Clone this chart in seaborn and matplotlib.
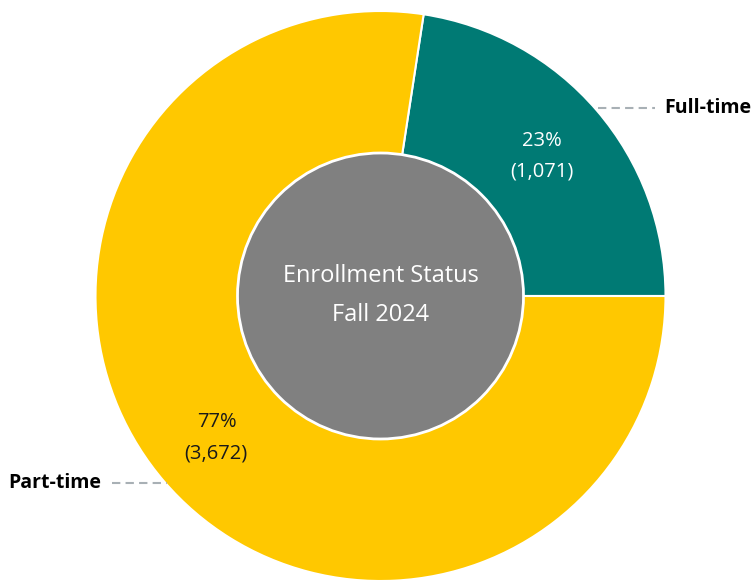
import matplotlib
matplotlib.use("Agg")
import matplotlib.pyplot as plt
import seaborn as sns
from matplotlib.patches import Circle

categories = ["Full-time", "Part-time"]
counts = [1071, 3672]
colors = ["#007A74", "#FFC800"]
center_title = ["Enrollment Status", "Fall 2024"]

sns.set_theme(style="white")
plt.rcParams['font.family'] = ['Open Sans', 'DejaVu Sans']

W, H = 753, 582
fig = plt.figure(figsize=(W / 100, H / 100), dpi=100)
ax = fig.add_axes([0, 0, 1, 1])

cx, cy, R = 380.5, H - 296, 285
wedges, _ = ax.pie(counts, colors=colors, startangle=0, counterclock=True,
                   center=(cx, cy), radius=R, frame=True,
                   wedgeprops=dict(edgecolor='white', linewidth=1.5))
ax.set_xlim(0, W)
ax.set_ylim(0, H)
ax.set_aspect('equal')
ax.axis('off')

ax.add_patch(Circle((cx, cy), 143, facecolor='#808080', edgecolor='white', linewidth=2, zorder=5))
ax.text(cx, H - 276, center_title[0], ha='center', va='center', color='white', fontsize=17, zorder=6)
ax.text(cx, H - 315, center_title[1], ha='center', va='center', color='white', fontsize=17, zorder=6)

total = sum(counts)
pct = [round(c / total * 100) for c in counts]
# inner labels
ax.text(542, H - 141, f"{pct[0]}%", ha='center', va='center', color='white', fontsize=14.5)
ax.text(542, H - 172, f"({counts[0]:,})", ha='center', va='center', color='white', fontsize=14.5)
ax.text(217, H - 422, f"{pct[1]}%", ha='center', va='center', color='#1a1a1a', fontsize=14.5)
ax.text(216, H - 454, f"({counts[1]:,})", ha='center', va='center', color='#1a1a1a', fontsize=14.5)

# outer labels with dashed leaders
ax.plot([598, 655], [H - 108, H - 108], ls=(0, (4, 2.5)), color='#A8B0B5', lw=1.5, zorder=1)
ax.text(664, H - 108, categories[0], ha='left', va='center', color='black', fontsize=14, fontweight='bold')
ax.plot([112, 167], [H - 483, H - 483], ls=(0, (4, 2.5)), color='#A8B0B5', lw=1.5, zorder=1)
ax.text(101, H - 483, categories[1], ha='right', va='center', color='black', fontsize=14, fontweight='bold')

fig.savefig("out.png", dpi=100)
